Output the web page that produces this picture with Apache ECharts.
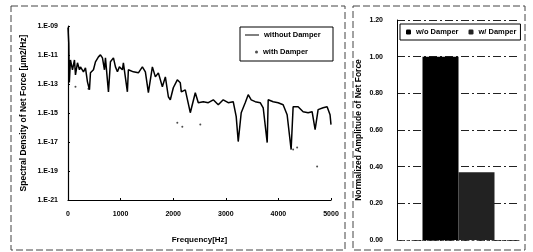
<!DOCTYPE html>
<html>
<head>
<meta charset="utf-8">
<script src="https://cdn.jsdelivr.net/npm/echarts@6/dist/echarts.min.js"></script>
<style>
  html, body {margin: 0; padding: 0; background: #fff;}
  #main {width: 533px; height: 252px;}
</style>
</head>
<body>
<div id="main"></div>
<script>
// left panel: spectral density, stored as log10 exponent per frequency (Hz)
var freqWithout = [0, 15, 25, 47, 85, 123, 142, 180, 218, 237, 294, 332, 370, 408, 427, 484, 522, 579, 617, 655,
    693, 712, 769, 807, 864, 902, 940, 977, 1034, 1053, 1129, 1148, 1243, 1338, 1414, 1471, 1528, 1604, 1661, 1718,
    1794, 1851, 1908, 1945, 2002, 2078, 2135, 2154, 2230, 2325, 2420, 2477, 2572, 2667, 2762, 2857, 2951, 3046, 3141, 3198,
    3236, 3293, 3369, 3426, 3483, 3559, 3654, 3711, 3787, 3806, 3901, 3995, 4090, 4166, 4242, 4280, 4375, 4470, 4565, 4641,
    4698, 4755, 4850, 4926, 4982, 5000];
var expWithout = [-9.1, -10.2, -12.9, -11.34, -12.02, -11.34, -12.37, -11.54, -12.02, -11.82, -12.16, -11.89, -12.85, -13.4, -12.23, -12.02, -11.47, -11.13, -10.99, -11.2,
    -12.02, -11.2, -13.54, -11.47, -11.2, -11.82, -12.16, -11.82, -12.02, -11.54, -13.54, -12.02, -12.16, -12.23, -11.82, -12.16, -13.6, -11.82, -12.51, -12.23,
    -13.19, -12.51, -13.88, -14.09, -13.26, -12.71, -12.92, -13.54, -13.4, -14.98, -13.6, -14.29, -14.22, -14.29, -14.09, -14.43, -14.09, -14.29, -14.22, -15.25,
    -16.97, -14.98, -14.29, -13.74, -14.09, -14.22, -14.29, -14.64, -17.04, -14.09, -14.22, -14.29, -14.43, -15.12, -17.52, -14.57, -14.57, -14.91, -14.98, -14.91,
    -16.15, -14.77, -14.64, -14.57, -15.12, -15.8];
var freqWith = [142, 389, 2078, 2173, 2515, 4280, 4356, 4736];
var expWith = [-13.19, -13.33, -15.67, -15.94, -15.8, -17.52, -17.38, -18.69];

// right panel: normalized amplitude
var barNames = ['w/o Damper', 'w/ Damper'];
var barValues = [1.0, 0.37];

var chart = echarts.init(document.getElementById('main'));

function expLabel(v) {
    var a = Math.abs(Math.round(v));
    return '1.E' + (v < 0 ? '-' : '+') + (a < 10 ? '0' + a : a);
}

var font = 'Liberation Sans, Arial, sans-serif';
var lineData = freqWithout.map(function (f, i) { return [f, expWithout[i]]; });
var dotData = freqWith.map(function (f, i) { return [f, expWith[i]]; });
var legendText = {fontSize: 7.5, fontWeight: 'bold', color: '#000', fontFamily: font};

var option = {
    backgroundColor: '#fff',
    animation: false,
    textStyle: {fontFamily: font},
    graphic: [
        {type: 'rect', shape: {x: 11, y: 6, width: 334, height: 244},
            style: {fill: 'none', stroke: '#444', lineWidth: 1, lineDash: [7, 3]}},
        {type: 'rect', shape: {x: 353, y: 6, width: 172, height: 244},
            style: {fill: 'none', stroke: '#444', lineWidth: 1, lineDash: [7, 3]}},
        // frame round the left legend
        {type: 'rect', shape: {x: 240, y: 27, width: 93, height: 34},
            style: {fill: 'none', stroke: '#000', lineWidth: 1}}
    ],
    legend: [
        {
            left: 243, top: 29, padding: 2, itemWidth: 14, itemHeight: 8,
            textStyle: legendText,
            data: [{name: 'without Damper', icon: 'path://M0,4L14,4L14,5L0,5Z'}]
        },
        {
            left: 253, top: 46, padding: 2, itemWidth: 3, itemHeight: 3, itemGap: 4,
            textStyle: legendText,
            data: [{name: 'with Damper', icon: 'circle'}]
        },
        {
            left: 400, top: 24, width: 118, padding: [4, 4, 4, 6], itemGap: 10,
            itemWidth: 5, itemHeight: 5, borderColor: '#000', borderWidth: 1,
            textStyle: legendText,
            data: barNames
        }
    ],
    grid: [
        {left: 68, right: 202, top: 26, bottom: 52},
        {left: 397, right: 13, top: 20, bottom: 12}
    ],
    xAxis: [
        {
            gridIndex: 0, type: 'value', min: 0, max: 5000, interval: 1000,
            name: 'Frequency[Hz]', nameLocation: 'middle', nameGap: 36,
            nameTextStyle: {fontSize: 8, fontWeight: 'bold', color: '#000'},
            axisLine: {lineStyle: {color: '#000', width: 1.2}},
            axisTick: {inside: true, length: 2, lineStyle: {color: '#000'}},
            axisLabel: {fontSize: 7, fontWeight: 'bold', color: '#000', margin: 11,
                formatter: function (v) { return String(v); }},
            splitLine: {show: false}
        },
        {
            gridIndex: 1, type: 'category', data: ['Net Force'],
            axisLine: {lineStyle: {color: '#555', type: [2, 3]}},
            axisTick: {show: false}, axisLabel: {show: false}
        }
    ],
    yAxis: [
        {
            gridIndex: 0, type: 'value', min: -21, max: -9, interval: 2,
            name: 'Spectral Density of Net Force [μm2/Hz]', nameLocation: 'middle', nameGap: 40,
            nameTextStyle: {fontSize: 8.5, fontWeight: 'bold', color: '#000'},
            axisLine: {show: true, lineStyle: {color: '#000', width: 1.2}},
            axisTick: {show: true, inside: true, length: 2, lineStyle: {color: '#000'}},
            axisLabel: {fontSize: 7, fontWeight: 'bold', color: '#000', margin: 10, formatter: expLabel},
            splitLine: {show: false}
        },
        {
            gridIndex: 1, type: 'value', min: 0, max: 1.2, interval: 0.2,
            name: 'Normalized Amplitude of Net Force', nameLocation: 'middle', nameGap: 34,
            nameTextStyle: {fontSize: 8.5, fontWeight: 'bold', color: '#000'},
            axisLine: {show: true, lineStyle: {color: '#000', width: 1}},
            axisTick: {show: false},
            axisLabel: {fontSize: 7, fontWeight: 'bold', color: '#000', margin: 14,
                formatter: function (v) { return v.toFixed(2); }},
            splitLine: {lineStyle: {color: '#222', width: 1, type: [8, 3, 2, 3]}}
        }
    ],
    series: [
        {
            name: 'without Damper', type: 'line', xAxisIndex: 0, yAxisIndex: 0,
            data: lineData, symbol: 'none', lineStyle: {color: '#000', width: 1.5},
            itemStyle: {color: '#000'}
        },
        {
            name: 'with Damper', type: 'scatter', xAxisIndex: 0, yAxisIndex: 0,
            data: dotData, symbolSize: 2, itemStyle: {color: '#222'}
        },
        {
            name: barNames[0], type: 'bar', xAxisIndex: 1, yAxisIndex: 1,
            data: [barValues[0]], barWidth: 36, barGap: '0%', itemStyle: {color: '#000'}
        },
        {
            name: barNames[1], type: 'bar', xAxisIndex: 1, yAxisIndex: 1,
            data: [barValues[1]], barWidth: 36, barGap: '0%', itemStyle: {color: '#222'}
        }
    ]
};
chart.setOption(option);
</script>
</body>
</html>
